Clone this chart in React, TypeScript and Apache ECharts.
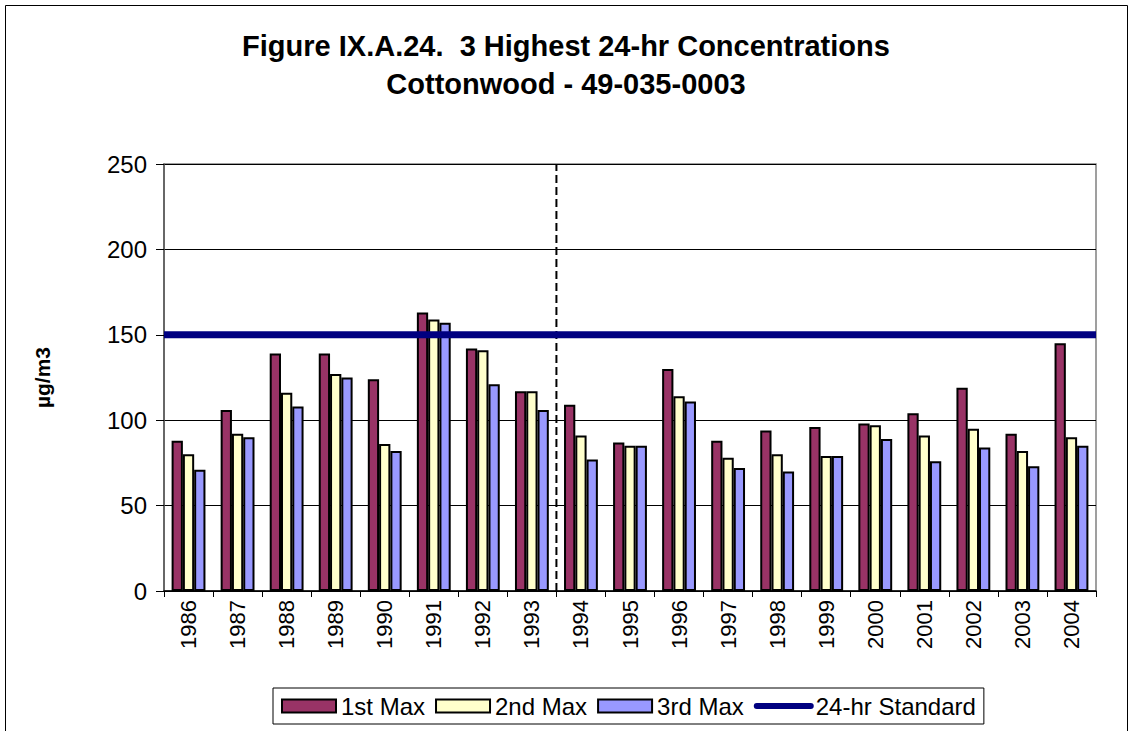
import React, { useEffect, useRef } from "react";
import * as echarts from "echarts";

const years = ["1986","1987","1988","1989","1990","1991","1992","1993","1994","1995","1996","1997","1998","1999","2000","2001","2002","2003","2004"];
const firstMax = [88,106,139,139,124,163,142,117,109,87,130,88,94,96,98,104,119,92,145];
const secondMax = [80,92,116,127,86,159,141,117,91,85,114,78,80,79,97,91,95,82,90];
const thirdMax = [71,90,108,125,82,157,121,106,77,85,111,72,70,79,89,76,84,73,85];
const standardValue = 150;
const dividerIndex = 8; // boundary before 1994
const yMin = 0;
const yMax = 250;
const yStep = 50;

const seriesNames = ["1st Max", "2nd Max", "3rd Max", "24-hr Standard"];
const colors = ["#993366", "#FFFFCC", "#9999FF", "#000080"];
const FONT = "'Liberation Sans', Arial, sans-serif";

export default function App() {
  const ref = useRef<HTMLDivElement>(null);
  useEffect(() => {
    if (!ref.current) return;
    const chart = echarts.init(ref.current, undefined, { renderer: "svg" });
    const barStyle = (c: string) => ({ color: c, borderColor: "#000", borderWidth: 2 });
    chart.setOption({
      animation: false,
      backgroundColor: "#fff",
      title: {
        text: "Figure IX.A.24.  3 Highest 24-hr Concentrations\nCottonwood - 49-035-0003",
        left: "center",
        top: 27,
        padding: 0,
        textStyle: { fontFamily: FONT, fontSize: 29, fontWeight: "bold", color: "#000", lineHeight: 38 },
      },
      graphic: [
        {
          type: "rect",
          shape: { x: 5.5, y: 5.5, width: 1122, height: 760 },
          style: { fill: "none", stroke: "#000", lineWidth: 1 },
          silent: true,
          z: -1,
        },
      ],
      grid: {
        left: 164, right: 36, top: 164, bottom: 140,
        show: true, borderColor: "#808080", borderWidth: 1.5, backgroundColor: "transparent",
      },
      legend: {
        data: [
          { name: seriesNames[0], icon: "rect" },
          { name: seriesNames[1], icon: "rect" },
          { name: seriesNames[2], icon: "rect" },
          {
            name: seriesNames[3],
            itemStyle: { opacity: 0 },
            lineStyle: { width: 6, cap: "round", color: colors[3] },
          },
        ],
        left: 273,
        top: 688,
        padding: [6, 8],
        itemGap: 10,
        itemWidth: 54,
        itemHeight: 13,
        borderColor: "#000",
        borderWidth: 1,
        textStyle: { fontFamily: FONT, fontSize: 24, color: "#000" },
      },
      xAxis: [
        {
          type: "category",
          data: years,
          boundaryGap: true,
          axisLine: { lineStyle: { color: "#000", width: 1.5 } },
          axisTick: { show: true, length: 6, lineStyle: { color: "#000" } },
          axisLabel: { rotate: 90, margin: 9, fontFamily: FONT, fontSize: 22, color: "#000" },
          splitLine: { show: false },
        },
        { type: "value", min: 0, max: years.length, show: false },
      ],
      yAxis: {
        type: "value",
        min: yMin,
        max: yMax,
        interval: yStep,
        name: "µg/m3",
        nameLocation: "middle",
        nameGap: 111,
        nameTextStyle: { fontFamily: FONT, fontSize: 21, fontWeight: "bold", color: "#000" },
        axisLine: { show: true, lineStyle: { color: "#555", width: 1.5 } },
        axisTick: { show: true, length: 8, lineStyle: { color: "#000" } },
        axisLabel: { margin: 17, fontFamily: FONT, fontSize: 24, color: "#000" },
        splitLine: { show: true, lineStyle: { color: "#000", width: 1 } },
      },
      series: [
        { name: seriesNames[0], type: "bar", data: firstMax, itemStyle: barStyle(colors[0]), barGap: "0%", barCategoryGap: "31%" },
        { name: seriesNames[1], type: "bar", data: secondMax, itemStyle: barStyle(colors[1]), barGap: "0%", barCategoryGap: "31%" },
        { name: seriesNames[2], type: "bar", data: thirdMax, itemStyle: barStyle(colors[2]), barGap: "0%", barCategoryGap: "31%" },
        {
          name: seriesNames[3],
          type: "line",
          xAxisIndex: 1,
          data: [[0, standardValue], [years.length, standardValue]],
          symbol: "none",
          lineStyle: { color: colors[3], width: 7 },
          itemStyle: { color: colors[3] },
          z: 5,
        },
        {
          name: "divider",
          type: "line",
          xAxisIndex: 1,
          data: [[dividerIndex, yMin], [dividerIndex, yMax]],
          symbol: "none",
          lineStyle: { color: "#000", width: 2, type: [8, 4] },
          z: 4,
          silent: true,
        },
      ],
    });
    return () => chart.dispose();
  }, []);
  return <div ref={ref} style={{ position: "absolute", left: 0, top: 0, width: 1132, height: 731 }} />;
}
